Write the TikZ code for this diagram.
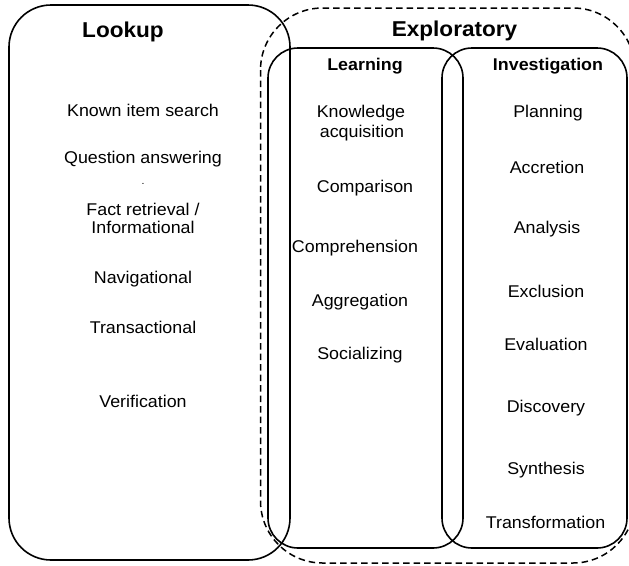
\documentclass[tikz,border=0pt]{standalone}
\usepackage{fontspec}
\setmainfont{Liberation Sans}[FakeStretch=1.05]
\begin{document}
\begin{tikzpicture}[x=1pt,y=-1pt,
  frame/.style={line width=1.6pt, rounded corners=#1},
  groupframe/.style={line width=1.5pt, dash pattern=on 6.5pt off 4pt, rounded corners=62pt},
  heading/.style={anchor=base, inner sep=0pt, font=\bfseries\fontsize{21.5}{25}\selectfont},
  subheading/.style={anchor=base, inner sep=0pt, font=\bfseries\fontsize{17}{20}\selectfont},
  item/.style={anchor=base, inner sep=0pt, font=\fontsize{17}{20}\selectfont}]
\useasboundingbox (0,0) rectangle (629,565);

% outlines of the groups
\draw[frame=42pt] (9,5) rectangle (290,560);
\draw[groupframe] (260.5,8) rectangle (635,563);
\draw[frame=30pt] (268,48) rectangle (463,548);
\draw[frame=30pt] (442,48) rectangle (627,548);

% headings
\node[heading] (lookup) at (123,37) {Lookup};
\node[heading] (exploratory) at (454.5,36) {Exploratory};
\node[subheading] (learning) at (365,70) {Learning};
\node[subheading] (investigation) at (548,70) {Investigation};

% lookup column
\node[item] (known) at (143,116.7) {Known item search};
\node[item] (question) at (143,163.3) {Question answering};
\node[item, font=\fontsize{10}{12}\selectfont] (dot) at (143,184) {.};
\node[item] (fact) at (143,215) {Fact retrieval /};
\node[item] (informational) at (143,233.5) {Informational};
\node[item] (navigational) at (143,283.5) {Navigational};
\node[item] (transactional) at (143,333.3) {Transactional};
\node[item] (verification) at (143,407.3) {Verification};

% learning column
\node[item] (knowledge) at (361,117) {Knowledge};
\node[item] (acquisition) at (362,137) {acquisition};
\node[item] (comparison) at (365,192) {Comparison};
\node[item] (comprehension) at (355,252) {Comprehension};
\node[item] (aggregation) at (360,306) {Aggregation};
\node[item] (socializing) at (360,359.3) {Socializing};

% investigation column
\node[item] (planning) at (548,117) {Planning};
\node[item] (accretion) at (547,173) {Accretion};
\node[item] (analysis) at (547,233) {Analysis};
\node[item] (exclusion) at (546,297.3) {Exclusion};
\node[item] (evaluation) at (546,350) {Evaluation};
\node[item] (discovery) at (546,412.3) {Discovery};
\node[item] (synthesis) at (546,474) {Synthesis};
\node[item] (transformation) at (545.5,528) {Transformation};
\end{tikzpicture}
\end{document}
